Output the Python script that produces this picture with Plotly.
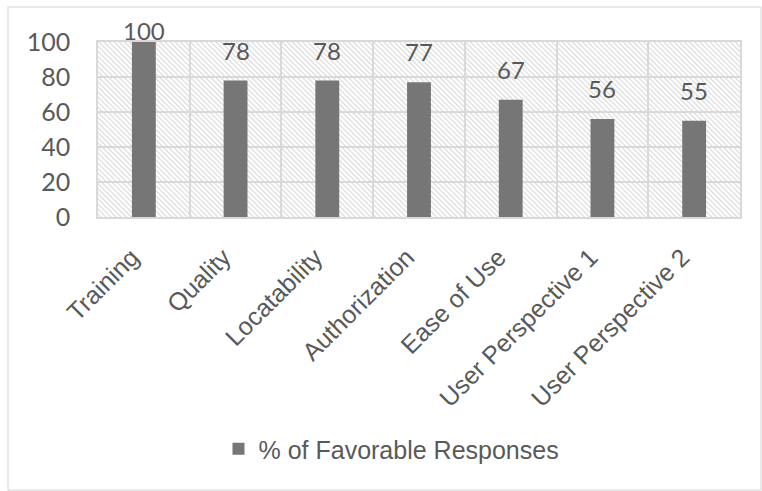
import base64
import plotly.graph_objects as go

categories = ["Training", "Quality", "Locatability", "Authorization",
              "Ease of Use", "User Perspective 1", "User Perspective 2"]
favorable = [100, 78, 78, 77, 67, 56, 55]
series_name = "% of Favorable Responses"
y_ticks = [0, 20, 40, 60, 80, 100]

W, H = 762, 491
L, R, T, B = 98, 22, 42, 274
PW, PH = W - L - R, H - T - B
Y_MAX = 100

GRID = "#d9d9d9"
TEXT = "#595959"
BAR = "#767676"

svg = f'''<svg xmlns="http://www.w3.org/2000/svg" width="{PW}" height="{PH}" viewBox="0 0 {PW} {PH}" preserveAspectRatio="none">
<defs><pattern id="h" patternUnits="userSpaceOnUse" width="3.6" height="3.6" patternTransform="rotate(-45)">
<line x1="0.6" y1="0" x2="0.6" y2="3.6" stroke="#dadada" stroke-width="1.2"/></pattern></defs>
<rect width="100%" height="100%" fill="white"/>
<rect width="100%" height="100%" fill="url(#h)"/></svg>'''
src = "data:image/svg+xml;base64," + base64.b64encode(svg.encode()).decode()

fig = go.Figure()
fig.add_trace(go.Bar(
    x=categories, y=favorable, name=series_name,
    marker=dict(color=BAR, line=dict(width=0)),
    showlegend=True,
))

# data labels: sit ~20px above the bar, but are kept inside the chart top
LABEL_GAP, DIGIT_H, LABEL_MIN_TOP, DESCENT = 20, 18, 23, 6
annotations = []
for c, v in zip(categories, favorable):
    bar_top = T + PH * (1 - v / Y_MAX)
    bottom = bar_top - LABEL_GAP
    if bottom - DIGIT_H < LABEL_MIN_TOP:
        bottom = LABEL_MIN_TOP + DIGIT_H
    annotations.append(dict(
        x=c, y=v, xref="x", yref="y", text=str(v), showarrow=False,
        yanchor="bottom", xanchor="center",
        yshift=bar_top - bottom - DESCENT,
        font=dict(family="Lato", size=24, color=TEXT)))


def px_x(p):
    return (p - L) / PW


def px_y(p):
    return (H - B - p) / PH


fig.update_layout(
    width=W, height=H,
    margin=dict(l=L, r=R, t=T, b=B, autoexpand=False),
    paper_bgcolor="white", plot_bgcolor="rgba(0,0,0,0)",
    bargap=0.74,
    showlegend=True,
    legend=dict(orientation="h", x=px_x(391.5), xanchor="center",
                y=px_y(449), yanchor="middle",
                font=dict(family="Liberation Sans", size=25, color=TEXT),
                bgcolor="rgba(0,0,0,0)"),
    images=[dict(source=src, xref="paper", yref="paper", x=0, y=1,
                 sizex=1, sizey=1, xanchor="left", yanchor="top",
                 sizing="stretch", layer="below")],
    shapes=[dict(type="rect", xref="paper", yref="paper",
                 x0=px_x(8), x1=px_x(761), y0=px_y(490), y1=px_y(7),
                 line=dict(color="#e3e3e3", width=1.5), layer="below")],
    annotations=annotations,
)
fig.update_xaxes(
    type="category", tickson="boundaries", showgrid=True,
    gridcolor=GRID, gridwidth=1.5, ticks="", tickangle=-45,
    showline=True, mirror=True, linecolor=GRID, linewidth=1.5,
    tickfont=dict(family="Liberation Sans", size=25, color=TEXT),
    ticklabelstandoff=14, ticklabelshift=-12,
)
fig.update_yaxes(
    range=[0, Y_MAX], tickvals=y_ticks, showgrid=True, gridcolor=GRID,
    gridwidth=1.5, zeroline=False, showline=True, mirror=True,
    linecolor=GRID, linewidth=1.5, ticks="",
    tickfont=dict(family="Lato", size=25, color=TEXT),
    ticklabelstandoff=21,
)
fig.write_html("out.html")
